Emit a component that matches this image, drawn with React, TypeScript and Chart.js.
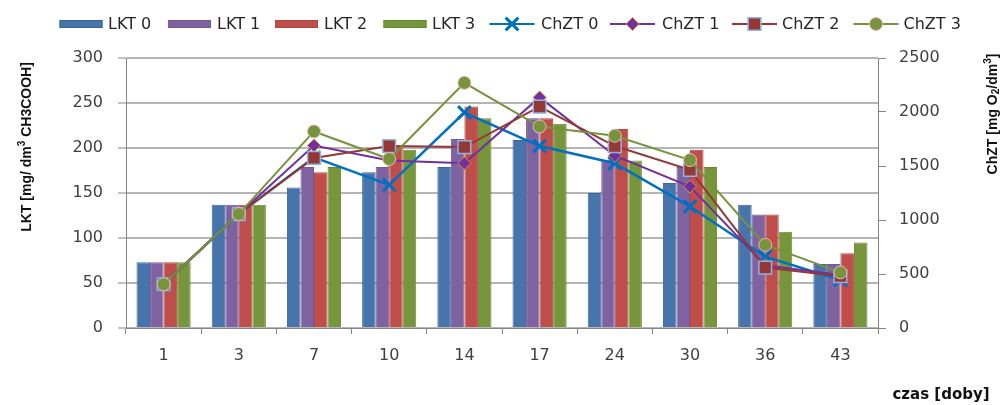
import React, { useEffect, useRef } from 'react';
import { Chart, registerables } from 'chart.js';

Chart.register(...registerables);

// ---------- data ----------
const categories = ['1', '3', '7', '10', '14', '17', '24', '30', '36', '43'];
const lktNames = ['LKT 0', 'LKT 1', 'LKT 2', 'LKT 3'];
const chztNames = ['ChZT 0', 'ChZT 1', 'ChZT 2', 'ChZT 3'];

const lkt0 = [73, 137, 156, 173, 179, 209, 150, 161, 137, 71];
const lkt1 = [73, 137, 179, 179, 210, 233, 187, 179, 126, 71];
const lkt2 = [73, 137, 173, 203, 246, 233, 221, 198, 126, 83];
const lkt3 = [73, 137, 179, 198, 233, 227, 186, 179, 107, 95];

const chzt0 = [405, 1055, 1580, 1325, 1995, 1685, 1525, 1125, 660, 445];
const chzt1 = [405, 1055, 1690, 1550, 1525, 2135, 1595, 1310, 580, 490];
const chzt2 = [405, 1055, 1575, 1685, 1675, 2050, 1685, 1465, 560, 480];
const chzt3 = [405, 1055, 1820, 1565, 2270, 1865, 1780, 1555, 770, 515];

const leftMax = 300;
const leftStep = 50;
const rightMax = 2500;
const rightStep = 500;

const leftTitle = ['LKT [mg/ dm', '3', ' CH3COOH]'];
const rightTitle = ['ChZT [mg O', '2', '/dm', '3', ']'];
const xTitle = 'czas [doby]';

// ---------- styles ----------
const barFill = ['#4674AB', '#7F63A1', '#BF4E4B', '#77963C'];
const barBorder = ['#3A66A0', '#74579A', '#B44744', '#6C8A34'];
const lineColor = ['#0070C0', '#7030A0', '#953735', '#77933C'];
const markerStyle = ['crossRot', 'rectRot', 'rect', 'circle'];
const markerRadius = [9, 6.5, 9, 6.5];
const markerBorder = ['#0070C0', '#E4882A', '#8DB4E2', '#E6B9B8'];
const markerBorderWidth = [3, 1, 1.5, 1];

const axisColor = '#868686';
const gridColor = '#B5B5B5';
const tickFont = { family: '"DejaVu Sans", Verdana, sans-serif', size: 16 };
const textColor = '#404040';

function drawMarker(ctx: CanvasRenderingContext2D, i: number, x: number, y: number) {
  const style = markerStyle[i];
  const r = markerRadius[i];
  ctx.save();
  ctx.fillStyle = lineColor[i];
  ctx.strokeStyle = markerBorder[i];
  ctx.lineWidth = markerBorderWidth[i];
  ctx.beginPath();
  if (style === 'crossRot') {
    const d = r * Math.SQRT1_2;
    ctx.moveTo(x - d, y - d);
    ctx.lineTo(x + d, y + d);
    ctx.moveTo(x - d, y + d);
    ctx.lineTo(x + d, y - d);
    ctx.stroke();
  } else if (style === 'rectRot') {
    ctx.moveTo(x - r, y);
    ctx.lineTo(x, y - r);
    ctx.lineTo(x + r, y);
    ctx.lineTo(x, y + r);
    ctx.closePath();
    ctx.fill();
    ctx.stroke();
  } else if (style === 'rect') {
    const s = r * Math.SQRT1_2;
    ctx.rect(x - s, y - s, 2 * s, 2 * s);
    ctx.fill();
    ctx.stroke();
  } else {
    ctx.arc(x, y, r, 0, Math.PI * 2);
    ctx.fill();
    ctx.stroke();
  }
  ctx.restore();
}

function drawRichText(
  ctx: CanvasRenderingContext2D,
  parts: string[],
  kinds: string[],
  cx: number,
  cy: number,
  rotate: boolean
) {
  const mainFont = 'bold 14px "Liberation Sans", Arial, sans-serif';
  const smallFont = 'bold 10px "Liberation Sans", Arial, sans-serif';
  ctx.save();
  ctx.translate(cx, cy);
  if (rotate) ctx.rotate(-Math.PI / 2);
  ctx.textBaseline = 'middle';
  ctx.textAlign = 'left';
  ctx.fillStyle = '#111111';
  let total = 0;
  const widths: number[] = [];
  parts.forEach((p, k) => {
    ctx.font = kinds[k] === 'n' ? mainFont : smallFont;
    const w = ctx.measureText(p).width;
    widths.push(w);
    total += w;
  });
  let x = -total / 2;
  parts.forEach((p, k) => {
    ctx.font = kinds[k] === 'n' ? mainFont : smallFont;
    const dy = kinds[k] === 'sup' ? -5 : kinds[k] === 'sub' ? 3 : 0;
    ctx.fillText(p, x, dy);
    x += widths[k];
  });
  ctx.restore();
}

const overlayPlugin = {
  id: 'overlay',
  afterDraw(chart: any) {
    const ctx: CanvasRenderingContext2D = chart.ctx;
    ctx.save();
    // legend
    const ly = 24;
    ctx.font = '16px "DejaVu Sans", Verdana, sans-serif';
    ctx.textBaseline = 'middle';
    ctx.textAlign = 'left';
    const boxX = [59.5, 168, 275, 383.5];
    const barTextX = [108, 217, 324, 432];
    lktNames.forEach((name, i) => {
      ctx.fillStyle = barFill[i];
      ctx.fillRect(boxX[i], ly - 4, 43, 8);
      ctx.strokeStyle = barBorder[i];
      ctx.lineWidth = 1;
      ctx.strokeRect(boxX[i] + 0.5, ly - 3.5, 42, 7);
      ctx.fillStyle = '#262626';
      ctx.fillText(name, barTextX[i], ly + 1);
    });
    const lineX = [489.5, 610, 732, 853.5];
    const lineTextX = [541, 662, 782, 903.5];
    chztNames.forEach((name, i) => {
      ctx.strokeStyle = lineColor[i];
      ctx.lineWidth = 2;
      ctx.beginPath();
      ctx.moveTo(lineX[i], ly);
      ctx.lineTo(lineX[i] + 45, ly);
      ctx.stroke();
      drawMarker(ctx, i, lineX[i] + 22.5, ly);
      ctx.fillStyle = '#262626';
      ctx.font = '16px "DejaVu Sans", Verdana, sans-serif';
      ctx.textBaseline = 'middle';
      ctx.textAlign = 'left';
      ctx.fillText(name, lineTextX[i], ly + 1);
    });
    // axis titles
    drawRichText(ctx, leftTitle, ['n', 'sup', 'n'], 27, 147, true);
    drawRichText(ctx, rightTitle, ['n', 'sub', 'n', 'sup', 'n'], 993, 114, true);
    ctx.font = 'bold 15px "DejaVu Sans", Verdana, sans-serif';
    ctx.fillStyle = '#111111';
    ctx.textAlign = 'center';
    ctx.textBaseline = 'middle';
    ctx.fillText(xTitle, 941, 395);
    ctx.restore();
  },
};

export default function App() {
  const ref = useRef<HTMLCanvasElement | null>(null);

  useEffect(() => {
    if (!ref.current) return;
    const lktSeries = [lkt0, lkt1, lkt2, lkt3];
    const chztSeries = [chzt0, chzt1, chzt2, chzt3];

    const barSets = lktSeries.map((data, i) => ({
      type: 'bar' as const,
      label: lktNames[i],
      data,
      yAxisID: 'y',
      backgroundColor: barFill[i],
      borderColor: barBorder[i],
      borderWidth: 1,
      categoryPercentage: 0.72,
      barPercentage: 1.0,
      order: 10,
    }));

    const lineSets = chztSeries.map((data, i) => ({
      type: 'line' as const,
      label: chztNames[i],
      data,
      yAxisID: 'y1',
      borderColor: lineColor[i],
      backgroundColor: lineColor[i],
      borderWidth: i === 0 ? 2.5 : 2,
      pointStyle: markerStyle[i],
      pointRadius: markerRadius[i],
      pointHoverRadius: markerRadius[i],
      pointBackgroundColor: lineColor[i],
      pointBorderColor: markerBorder[i],
      pointBorderWidth: markerBorderWidth[i],
      tension: 0,
      fill: false,
      order: 3 - i,
    }));

    const plain = (v: any) => String(v);

    const chart = new Chart(ref.current, {
      type: 'bar',
      data: {
        labels: categories,
        datasets: [...barSets, ...lineSets] as any,
      },
      options: {
        responsive: false,
        animation: false,
        devicePixelRatio: 1,
        layout: { padding: { top: 58, left: 0, right: 0, bottom: 0 } },
        plugins: {
          legend: { display: false },
          tooltip: { enabled: false },
          title: { display: false },
        },
        scales: {
          x: {
            type: 'category',
            offset: true,
            grid: {
              offset: true,
              drawOnChartArea: false,
              drawTicks: true,
              tickLength: 6,
              tickColor: axisColor,
            },
            border: { color: axisColor, width: 1 },
            ticks: { font: tickFont, color: textColor, padding: 12, maxRotation: 0 },
            afterFit: (s: any) => {
              s.height = 77;
            },
          },
          y: {
            position: 'left',
            min: 0,
            max: leftMax,
            ticks: { stepSize: leftStep, font: tickFont, color: textColor, padding: 15, callback: plain },
            grid: {
              color: gridColor,
              lineWidth: 2,
              tickLength: 8,
              tickColor: axisColor,
              tickWidth: 1,
            },
            border: { color: axisColor, width: 1 },
            afterFit: (s: any) => {
              s.width = 126;
            },
          },
          y1: {
            position: 'right',
            min: 0,
            max: rightMax,
            ticks: { stepSize: rightStep, font: tickFont, color: textColor, padding: 13, callback: plain },
            grid: {
              drawOnChartArea: false,
              tickLength: 8,
              tickColor: axisColor,
            },
            border: { color: axisColor, width: 1 },
            afterFit: (s: any) => {
              s.width = 127;
            },
          },
        },
      } as any,
      plugins: [overlayPlugin],
    });

    return () => {
      chart.destroy();
    };
  }, []);

  return (
    <div style={{ position: 'absolute', left: 0, top: 0, width: 1005, height: 405, background: '#ffffff' }}>
      <canvas ref={ref} width={1005} height={405} style={{ display: 'block', width: 1005, height: 405 }} />
    </div>
  );
}
